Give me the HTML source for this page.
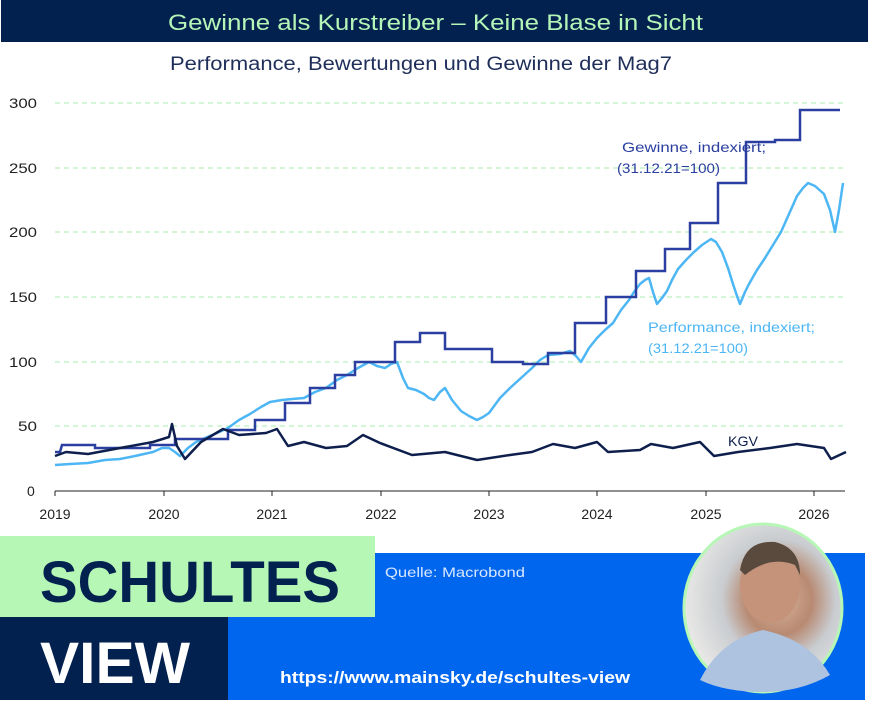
<!DOCTYPE html>
<html><head><meta charset="utf-8"><style>
html,body{margin:0;padding:0;background:#fff;width:870px;height:702px;overflow:hidden}
svg{display:block}
</style></head><body>
<svg width="870" height="702" viewBox="0 0 870 702" xmlns="http://www.w3.org/2000/svg" font-family="'Liberation Sans',sans-serif">
<rect x="1" y="0" width="867" height="42" fill="#03214f"/>
<text x="168" y="30" font-size="22" fill="#b6f5b8" textLength="535" lengthAdjust="spacingAndGlyphs">Gewinne als Kurstreiber – Keine Blase in Sicht</text>
<text x="170" y="70" font-size="19" fill="#1f2f5a" textLength="502" lengthAdjust="spacingAndGlyphs">Performance, Bewertungen und Gewinne der Mag7</text>
<g stroke="#b9f0bf" stroke-width="1.3" stroke-dasharray="5,4">
<line x1="55" y1="103" x2="845" y2="103"/><line x1="55" y1="168" x2="845" y2="168"/>
<line x1="55" y1="232" x2="845" y2="232"/><line x1="55" y1="297" x2="845" y2="297"/>
<line x1="55" y1="362" x2="845" y2="362"/><line x1="55" y1="426" x2="845" y2="426"/>
</g>
<line x1="55" y1="491" x2="845" y2="491" stroke="#222" stroke-width="1"/>
<g font-size="14" fill="#222">
<text x="9" y="108" textLength="28" lengthAdjust="spacingAndGlyphs">300</text><text x="9" y="173" textLength="28" lengthAdjust="spacingAndGlyphs">250</text><text x="9" y="237" textLength="28" lengthAdjust="spacingAndGlyphs">200</text>
<text x="9" y="302" textLength="28" lengthAdjust="spacingAndGlyphs">150</text><text x="9" y="367" textLength="28" lengthAdjust="spacingAndGlyphs">100</text><text x="18" y="431" textLength="19" lengthAdjust="spacingAndGlyphs">50</text><text x="27" y="496">0</text>
</g>
<g font-size="14" fill="#222" text-anchor="middle">
<text x="55" y="519">2019</text><text x="164" y="519">2020</text><text x="272" y="519">2021</text><text x="381" y="519">2022</text>
<text x="489" y="519">2023</text><text x="597" y="519">2024</text><text x="706" y="519">2025</text><text x="814" y="519">2026</text>
</g>
<g stroke="#222" stroke-width="1"><line x1="55" y1="491" x2="55" y2="496"/><line x1="164" y1="491" x2="164" y2="496"/><line x1="272" y1="491" x2="272" y2="496"/><line x1="381" y1="491" x2="381" y2="496"/><line x1="489" y1="491" x2="489" y2="496"/><line x1="597" y1="491" x2="597" y2="496"/><line x1="706" y1="491" x2="706" y2="496"/><line x1="814" y1="491" x2="814" y2="496"/></g>
<polyline fill="none" stroke="#4db6f4" stroke-width="2.5" stroke-linejoin="round" points="55,465 70,464 88,463 105,460 120,459 135,456 153,452 162,448 169,448 175,452 180,456 188,448 196,442 205,438 217,433 228,428 239,420 250,414 261,407 270,402 282,400 292,399 304,398 315,392 326,388 337,380 347,375 358,368 369,362 377,366 385,368 391,364 397,362 403,378 408,388 416,390 424,394 429,398 434,400 440,392 445,388 452,400 461,411 469,416 477,420 483,417 489,413 500,398 510,388 521,378 532,368 540,360 548,355 560,354 570,351 576,356 581,362 589,348 597,338 605,330 613,323 621,310 629,300 634,292 640,284 645,280 649,278 653,292 657,304 662,298 667,291 672,280 678,269 686,260 694,252 702,245 711,239 716,242 722,252 728,268 733,284 737,296 740,304 745,292 749,284 757,270 765,258 773,245 781,232 789,214 797,196 803,188 808,183 815,186 824,194 830,210 835,232 839,210 843,183"/>
<polyline fill="none" stroke="#2a3f9f" stroke-width="2.5" points="55,452 60,452 62,445 95,445 95,448 150,448 150,445 175,445 175,439 228,439 228,430 255,430 255,420 285,420 285,403 310,403 310,388 335,388 335,375 355,375 355,362 395,362 395,342 420,342 420,333 445,333 445,349 492,349 492,362 523,362 523,364 548,364 548,353 575,353 575,323 606,323 606,297 636,297 636,271 665,271 665,249 690,249 690,223 718,223 718,183 746,183 746,142 775,142 775,140 800,140 800,110 840,110"/>
<polyline fill="none" stroke="#0e1f4d" stroke-width="2.5" stroke-linejoin="round" points="55,456 66,452 88,454 120,448 153,442 169,437 172,424 177,446 185,459 201,442 223,429 239,435 266,433 277,429 288,446 304,442 326,448 347,446 363,435 380,443 412,455 445,452 477,460 510,455 532,452 553,444 575,448 597,442 608,452 640,450 651,444 673,448 700,442 714,456 738,452 770,448 797,444 824,448 831,459 846,452"/>
<g font-size="14">
<text x="622" y="152" fill="#2a3f9f" textLength="144" lengthAdjust="spacingAndGlyphs">Gewinne, indexiert;</text>
<text x="617" y="173" fill="#2a3f9f" textLength="103" lengthAdjust="spacingAndGlyphs">(31.12.21=100)</text>
<text x="648" y="332" fill="#4db6f4" textLength="167" lengthAdjust="spacingAndGlyphs">Performance, indexiert;</text>
<text x="648" y="353" fill="#4db6f4" textLength="100" lengthAdjust="spacingAndGlyphs">(31.12.21=100)</text>
<text x="728" y="446" fill="#0e1f4d" textLength="30" lengthAdjust="spacingAndGlyphs">KGV</text>
</g>
<rect x="228" y="553" width="637" height="147" fill="#0066ee"/>
<rect x="0" y="536" width="375" height="81" fill="#b6f7b5"/>
<rect x="0" y="617" width="228" height="83" fill="#03214f"/>
<text x="40" y="602" font-size="58" font-weight="bold" fill="#03214f" textLength="300" lengthAdjust="spacingAndGlyphs">SCHULTES</text>
<text x="40" y="683" font-size="58" font-weight="bold" fill="#fff" textLength="150" lengthAdjust="spacingAndGlyphs">VIEW</text>
<text x="385" y="577" font-size="14" fill="#d8e8ff" textLength="140" lengthAdjust="spacingAndGlyphs">Quelle: Macrobond</text>
<text x="280" y="683" font-size="17" font-weight="bold" fill="#fff" textLength="350" lengthAdjust="spacingAndGlyphs">https://www.mainsky.de/schultes-view</text>
<defs><radialGradient id="bg" cx="0.6" cy="0.45" r="0.6"><stop offset="0" stop-color="#d9b49c"/><stop offset="0.35" stop-color="#b88a72"/><stop offset="0.6" stop-color="#c9ccd0"/><stop offset="1" stop-color="#e8e8e6"/></radialGradient></defs>
<ellipse cx="763" cy="608" rx="79" ry="84" fill="url(#bg)" stroke="#b6f7b5" stroke-width="3"/>
<path d="M700,680 Q720,640 763,630 Q810,640 830,675 Q800,692 763,692 Q725,692 700,680Z" fill="#aec3e0"/>
<ellipse cx="770" cy="585" rx="30" ry="38" fill="#c4937a"/>
<path d="M740,570 Q745,540 775,542 Q800,548 800,575 L795,565 Q770,555 745,575Z" fill="#5a4a3e"/>
</svg>
</body></html>
